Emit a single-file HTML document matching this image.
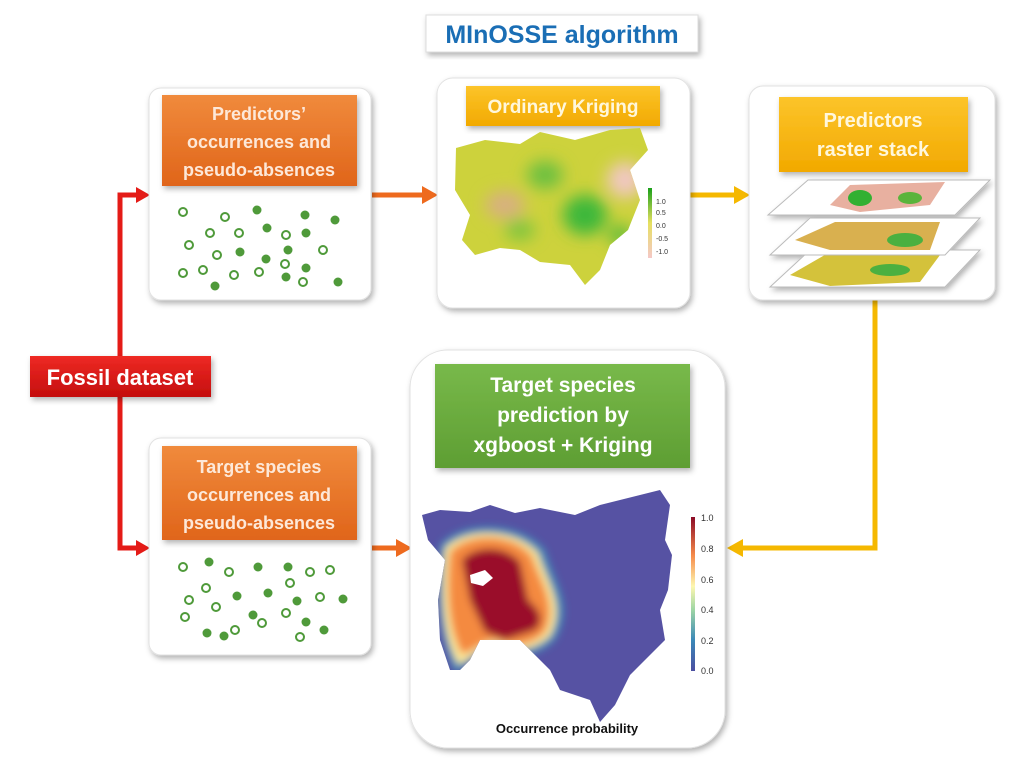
<!DOCTYPE html>
<html><head><meta charset="utf-8"><style>
body{margin:0;background:#fff}
svg{display:block}
text{font-family:"Liberation Sans",sans-serif}
</style></head><body>
<svg width="1024" height="767" viewBox="0 0 1024 767" xmlns="http://www.w3.org/2000/svg">
<defs>
<filter id="sh" x="-10%" y="-10%" width="130%" height="130%"><feDropShadow dx="2" dy="3" stdDeviation="3" flood-color="#000" flood-opacity="0.3"/></filter>
<filter id="bl" x="-30%" y="-30%" width="160%" height="160%"><feGaussianBlur stdDeviation="8"/></filter>
<filter id="bl2" x="-30%" y="-30%" width="160%" height="160%"><feGaussianBlur stdDeviation="4"/></filter>
<linearGradient id="og" x1="0" y1="0" x2="0" y2="1"><stop offset="0" stop-color="#f08a3c"/><stop offset="1" stop-color="#e0651a"/></linearGradient>
<linearGradient id="yg" x1="0" y1="0" x2="0" y2="1"><stop offset="0" stop-color="#fcc42a"/><stop offset="1" stop-color="#f2a900"/></linearGradient>
<linearGradient id="gg" x1="0" y1="0" x2="0" y2="1"><stop offset="0" stop-color="#78b94a"/><stop offset="1" stop-color="#5e9e33"/></linearGradient>
<linearGradient id="rg" x1="0" y1="0" x2="0" y2="1"><stop offset="0" stop-color="#ee2a24"/><stop offset="1" stop-color="#c40d0d"/></linearGradient>
<linearGradient id="cb" x1="0" y1="1" x2="0" y2="0"><stop offset="0" stop-color="#4b4ea0"/><stop offset=".2" stop-color="#3a88b8"/><stop offset=".4" stop-color="#9fd6a4"/><stop offset=".55" stop-color="#fdf7b0"/><stop offset=".75" stop-color="#f68b4a"/><stop offset="1" stop-color="#8b0a26"/></linearGradient>
<linearGradient id="kb" x1="0" y1="1" x2="0" y2="0"><stop offset="0" stop-color="#f5c8c8"/><stop offset=".5" stop-color="#e6e060"/><stop offset="1" stop-color="#1aa01a"/></linearGradient>
<clipPath id="eu"><path d="M422,515 L440,510 L470,512 L490,505 L515,513 L540,508 L575,515 L600,505 L640,495 L660,490 L670,505 L665,540 L672,555 L668,590 L660,610 L665,640 L645,660 L630,675 L615,705 L600,722 L590,700 L560,690 L550,670 L530,650 L520,640 L500,640 L480,640 L470,660 L460,670 L450,670 L440,640 L438,600 L445,560 L428,540 Z"/></clipPath>
<clipPath id="ek"><path d="M456,148 L485,140 L520,144 L540,132 L575,140 L610,130 L640,128 L648,150 L630,170 L640,200 L628,230 L610,245 L600,270 L585,285 L570,265 L540,262 L520,250 L500,248 L475,255 L462,240 L470,215 L455,190 Z"/></clipPath>
</defs>

<rect x="426" y="15" width="272" height="37" fill="#fff" stroke="#ddd" filter="url(#sh)"/>
<text x="562" y="43" text-anchor="middle" font-size="25" font-weight="bold" fill="#1a6eb5">MInOSSE algorithm</text>

<g fill="none" stroke-width="5">
<path d="M120,376 V195 H140" stroke="#e41b17"/>
<path d="M120,376 V548 H140" stroke="#e41b17"/>
<path d="M372,195 H425" stroke="#ee6a1e"/>
<path d="M372,548 H398" stroke="#ee6a1e"/>
<path d="M690,195 H737" stroke="#f5b800"/>
<path d="M875,300 V548 H740" stroke="#f5b800"/>
</g>
<polygon points="136,187 150,195 136,203" fill="#e41b17"/>
<polygon points="136,540 150,548 136,556" fill="#e41b17"/>
<polygon points="422,186 438,195 422,204" fill="#ee6a1e"/>
<polygon points="396,539 412,548 396,557" fill="#ee6a1e"/>
<polygon points="734,186 750,195 734,204" fill="#f5b800"/>
<polygon points="743,539 727,548 743,557" fill="#f5b800"/>

<rect x="30" y="356" width="181" height="41" fill="url(#rg)" filter="url(#sh)"/>
<text x="120" y="385" text-anchor="middle" font-size="22" font-weight="bold" fill="#fff">Fossil dataset</text>

<rect x="149" y="88" width="222" height="212" rx="12" fill="#fff" stroke="#e2e2e2" filter="url(#sh)"/>
<rect x="162" y="95" width="195" height="91" fill="url(#og)" filter="url(#sh)"/>
<g font-size="18" font-weight="bold" fill="#fde8d8" text-anchor="middle">
<text x="259" y="120">Predictors’</text><text x="259" y="148">occurrences and</text><text x="259" y="176">pseudo-absences</text></g>
<g stroke="#4f9a3a" stroke-width="2" fill="#fff">
<circle cx="183" cy="212" r="4"/><circle cx="225" cy="217" r="4"/><circle cx="210" cy="233" r="4"/><circle cx="239" cy="233" r="4"/><circle cx="189" cy="245" r="4"/><circle cx="217" cy="255" r="4"/><circle cx="286" cy="235" r="4"/><circle cx="323" cy="250" r="4"/><circle cx="285" cy="264" r="4"/><circle cx="183" cy="273" r="4"/><circle cx="203" cy="270" r="4"/><circle cx="234" cy="275" r="4"/><circle cx="259" cy="272" r="4"/><circle cx="303" cy="282" r="4"/>
</g>
<g fill="#4f9a3a">
<circle cx="257" cy="210" r="4.5"/><circle cx="305" cy="215" r="4.5"/><circle cx="335" cy="220" r="4.5"/><circle cx="267" cy="228" r="4.5"/><circle cx="306" cy="233" r="4.5"/><circle cx="240" cy="252" r="4.5"/><circle cx="288" cy="250" r="4.5"/><circle cx="266" cy="259" r="4.5"/><circle cx="306" cy="268" r="4.5"/><circle cx="286" cy="277" r="4.5"/><circle cx="215" cy="286" r="4.5"/><circle cx="338" cy="282" r="4.5"/>
</g>

<rect x="149" y="438" width="222" height="217" rx="12" fill="#fff" stroke="#e2e2e2" filter="url(#sh)"/>
<rect x="162" y="446" width="195" height="94" fill="url(#og)" filter="url(#sh)"/>
<g font-size="18" font-weight="bold" fill="#fde8d8" text-anchor="middle">
<text x="259" y="473">Target species</text><text x="259" y="501">occurrences and</text><text x="259" y="529">pseudo-absences</text></g>
<g stroke="#4f9a3a" stroke-width="2" fill="#fff">
<circle cx="183" cy="567" r="4"/><circle cx="229" cy="572" r="4"/><circle cx="206" cy="588" r="4"/><circle cx="290" cy="583" r="4"/><circle cx="310" cy="572" r="4"/><circle cx="330" cy="570" r="4"/><circle cx="189" cy="600" r="4"/><circle cx="216" cy="607" r="4"/><circle cx="286" cy="613" r="4"/><circle cx="185" cy="617" r="4"/><circle cx="235" cy="630" r="4"/><circle cx="262" cy="623" r="4"/><circle cx="300" cy="637" r="4"/><circle cx="320" cy="597" r="4"/>
</g>
<g fill="#4f9a3a">
<circle cx="209" cy="562" r="4.5"/><circle cx="258" cy="567" r="4.5"/><circle cx="288" cy="567" r="4.5"/><circle cx="237" cy="596" r="4.5"/><circle cx="268" cy="593" r="4.5"/><circle cx="297" cy="601" r="4.5"/><circle cx="343" cy="599" r="4.5"/><circle cx="253" cy="615" r="4.5"/><circle cx="306" cy="622" r="4.5"/><circle cx="207" cy="633" r="4.5"/><circle cx="224" cy="636" r="4.5"/><circle cx="324" cy="630" r="4.5"/>
</g>

<rect x="437" y="78" width="253" height="230" rx="16" fill="#fff" stroke="#e2e2e2" filter="url(#sh)"/>
<rect x="466" y="86" width="194" height="40" fill="url(#yg)" filter="url(#sh)"/>
<text x="563" y="113" text-anchor="middle" font-size="19" font-weight="bold" fill="#fff7dc">Ordinary Kriging</text>
<g clip-path="url(#ek)">
<rect x="450" y="125" width="200" height="165" fill="#cdd23c"/>
<g filter="url(#bl)">
<ellipse cx="585" cy="215" rx="22" ry="20" fill="#3cb83a"/>
<ellipse cx="545" cy="175" rx="18" ry="14" fill="#6cc040"/>
<ellipse cx="625" cy="180" rx="18" ry="18" fill="#f0c8c0"/>
<ellipse cx="505" cy="205" rx="20" ry="14" fill="#d8b080"/>
<ellipse cx="620" cy="235" rx="12" ry="10" fill="#5cbc3a"/>
<ellipse cx="520" cy="230" rx="15" ry="10" fill="#7cc43c"/>
</g>
</g>
<rect x="648" y="188" width="4" height="70" fill="url(#kb)"/>
<g font-size="7" fill="#333"><text x="656" y="204">1.0</text><text x="656" y="215">0.5</text><text x="656" y="228">0.0</text><text x="656" y="241">-0.5</text><text x="656" y="254">-1.0</text></g>

<rect x="749" y="86" width="246" height="214" rx="14" fill="#fff" stroke="#e2e2e2" filter="url(#sh)"/>
<rect x="779" y="97" width="189" height="75" fill="url(#yg)" filter="url(#sh)"/>
<text x="873" y="127" text-anchor="middle" font-size="20" font-weight="bold" fill="#fff7dc">Predictors</text>
<text x="873" y="156" text-anchor="middle" font-size="20" font-weight="bold" fill="#fff7dc">raster stack</text>
<g filter="url(#sh)">
<polygon points="770,287 810,250 980,250 945,287" fill="#fff" stroke="#bbb"/>
<polygon points="790,275 830,252 940,255 920,282 830,286" fill="#d4c23a"/>
<ellipse cx="890" cy="270" rx="20" ry="6" fill="#4cb040"/>
<polygon points="770,255 810,218 980,218 945,255" fill="#fff" stroke="#bbb"/>
<polygon points="795,240 835,222 940,222 930,250 830,250" fill="#d9b050"/>
<ellipse cx="905" cy="240" rx="18" ry="7" fill="#4cb040"/>
<polygon points="768,215 808,180 990,180 955,215" fill="#fff" stroke="#bbb"/>
<polygon points="830,205 850,185 945,182 930,205 860,212" fill="#e8b0a0"/>
<ellipse cx="860" cy="198" rx="12" ry="8" fill="#33b030"/>
<ellipse cx="910" cy="198" rx="12" ry="6" fill="#5ab43a"/>
</g>

<rect x="410" y="350" width="315" height="398" rx="38" fill="#fff" stroke="#e2e2e2" filter="url(#sh)"/>
<rect x="435" y="364" width="255" height="104" fill="url(#gg)" filter="url(#sh)"/>
<g font-size="21" font-weight="bold" fill="#fff" text-anchor="middle">
<text x="563" y="392">Target species</text><text x="563" y="422">prediction by</text><text x="563" y="452">xgboost + Kriging</text></g>
<g clip-path="url(#eu)">
<rect x="415" y="485" width="265" height="245" fill="#5652a3"/>
<g filter="url(#bl2)">
<path d="M440,545 C460,520 520,520 545,550 C555,585 575,605 555,640 C540,655 520,660 500,650 C480,645 470,670 455,672 C438,640 435,590 440,545 Z" fill="#3f8fb8"/>
<path d="M445,548 C465,527 515,527 538,553 C548,585 566,605 550,636 C535,650 515,654 500,646 C482,640 472,662 458,664 C442,636 440,592 445,548 Z" fill="#fbe898"/>
<path d="M450,552 C468,532 512,532 532,556 C542,585 558,605 545,632 C532,645 514,648 500,642 C485,636 475,652 462,654 C448,630 446,590 450,552 Z" fill="#f48a40"/>
<path d="M462,560 C476,545 505,545 520,562 L528,600 C540,610 545,620 535,630 L505,640 L485,632 L470,600 Z" fill="#9a0d2a"/>
</g>
<path d="M470,575 l15,-5 l8,8 l-10,8 l-12,-3 z" fill="#fff"/>
</g>
<rect x="691" y="517" width="4" height="154" fill="url(#cb)"/>
<g font-size="9" fill="#333"><text x="701" y="521">1.0</text><text x="701" y="552">0.8</text><text x="701" y="583">0.6</text><text x="701" y="613">0.4</text><text x="701" y="644">0.2</text><text x="701" y="674">0.0</text></g>
<text x="567" y="733" text-anchor="middle" font-size="13" font-weight="bold" fill="#111">Occurrence probability</text>
</svg>
</body></html>
